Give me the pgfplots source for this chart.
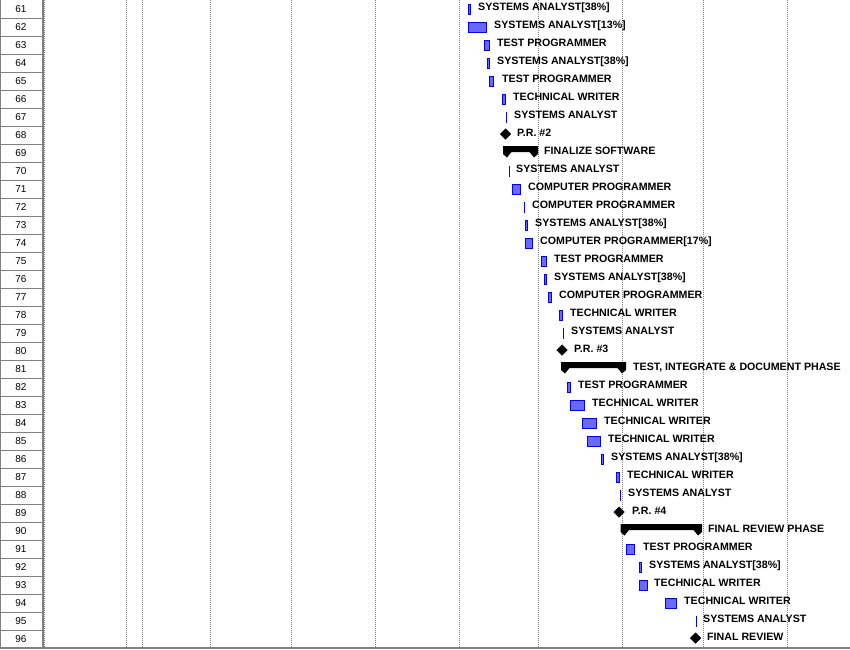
\documentclass[border=0pt]{standalone}
\usepackage{fontspec}
\setmainfont{Liberation Sans}
\usepackage{pgfplots}
\usepackage{pgfplotstable}
\pgfplotsset{compat=1.18}
\definecolor{barblue}{RGB}{0,0,255}
\definecolor{barfill}{RGB}{105,105,255}
\definecolor{gridgray}{RGB}{128,128,128}

% task bar: row, start, end
\newcommand\task[3]{%
 \pgfmathsetmacro\yt{9+18*(#1-61)-5}%
 \pgfmathsetmacro\yb{9+18*(#1-61)+5}%
 \pgfmathsetmacro\xa{#2+0.5}%
 \pgfmathsetmacro\xb{#3-0.5}%
 \addplot[draw=barblue, fill=barfill, line width=1pt] coordinates {(\xa,\yt)(\xb,\yt)(\xb,\yb)(\xa,\yb)} --cycle;
}
% zero-length task: row, x
\newcommand\tline[2]{%
 \pgfmathsetmacro\yt{9+18*(#1-61)-5.5}%
 \pgfmathsetmacro\yb{9+18*(#1-61)+5.5}%
 \addplot[draw=barblue, line width=1pt] coordinates {(#2,\yt)(#2,\yb)};
}
% summary bar: row, start, end
\newcommand\summ[3]{%
 \pgfmathsetmacro\yt{9+18*(#1-61)-7}%
 \pgfmathsetmacro\yb{9+18*(#1-61)-1}%
 \pgfmathsetmacro\yc{9+18*(#1-61)+1}%
 \pgfmathsetmacro\yp{9+18*(#1-61)+4.5}%
 \pgfmathsetmacro\xa{#2+4}\pgfmathsetmacro\xb{#2+8.5}%
 \pgfmathsetmacro\xc{#3-4}\pgfmathsetmacro\xd{#3-8.5}%
 \addplot[fill=black, draw=none] coordinates {(#2,\yt)(#3,\yt)(#3,\yc)(\xc,\yp)(\xd,\yb)(\xb,\yb)(\xa,\yp)(#2,\yc)} --cycle;
}

\pgfplotstableread[col sep=semicolon]{
row;x;label
61;478;SYSTEMS ANALYST[38\%]
62;494;SYSTEMS ANALYST[13\%]
63;497;TEST PROGRAMMER
64;497;SYSTEMS ANALYST[38\%]
65;502;TEST PROGRAMMER
66;513;TECHNICAL WRITER
67;514;SYSTEMS ANALYST
68;517;P.R. \#2
69;544;FINALIZE SOFTWARE
70;516;SYSTEMS ANALYST
71;528;COMPUTER PROGRAMMER
72;532;COMPUTER PROGRAMMER
73;535;SYSTEMS ANALYST[38\%]
74;540;COMPUTER PROGRAMMER[17\%]
75;554;TEST PROGRAMMER
76;554;SYSTEMS ANALYST[38\%]
77;559;COMPUTER PROGRAMMER
78;570;TECHNICAL WRITER
79;571;SYSTEMS ANALYST
80;574;P.R. \#3
81;633;TEST, INTEGRATE \& DOCUMENT PHASE
82;578;TEST PROGRAMMER
83;592;TECHNICAL WRITER
84;604;TECHNICAL WRITER
85;608;TECHNICAL WRITER
86;611;SYSTEMS ANALYST[38\%]
87;627;TECHNICAL WRITER
88;628;SYSTEMS ANALYST
89;632;P.R. \#4
90;708;FINAL REVIEW PHASE
91;643;TEST PROGRAMMER
92;649;SYSTEMS ANALYST[38\%]
93;654;TECHNICAL WRITER
94;684;TECHNICAL WRITER
95;703;SYSTEMS ANALYST
96;707;FINAL REVIEW
}\labels

\begin{document}
\begin{tikzpicture}
\begin{axis}[
  scale only axis, width=850pt, height=649pt,
  xmin=0, xmax=850, ymin=0, ymax=649, y dir=reverse,
  hide axis, clip=false,
]
% dotted timescale gridlines
\addplot[ycomb, draw=gridgray, line width=1pt, dash pattern=on 1pt off 1pt]
  coordinates {(44.5,647)(126.5,647)(142.5,647)(210.5,647)(291.5,647)(375.5,647)(459,647)(538,647)(622,647)(703,647)(787,647)};
% row-number column borders
\addplot[xcomb, draw=gridgray, line width=1pt]
  coordinates {(43,18)(43,36)(43,54)(43,72)(43,90)(43,108)(43,126)(43,144)(43,162)(43,180)(43,198)(43,216)(43,234)(43,252)(43,270)(43,288)(43,306)(43,324)(43,342)(43,360)(43,378)(43,396)(43,414)(43,432)(43,450)(43,468)(43,486)(43,504)(43,522)(43,540)(43,558)(43,576)(43,594)(43,612)(43,630)};
\addplot[draw=gridgray, line width=1pt] coordinates {(0.5,0)(0.5,648)};
\addplot[draw=gridgray, line width=1.4pt] coordinates {(43,0)(43,648)};
\addplot[draw=gridgray, line width=1.6pt] coordinates {(0,647.7)(850,647.7)};

% task bars
\task{61}{468}{471}
\task{62}{468}{487}
\task{63}{484}{490}
\task{64}{487}{490}
\task{65}{489}{494}
\task{66}{502}{506}
\tline{67}{506}
\summ{69}{503}{538}
\tline{70}{509}
\task{71}{512}{520.5}
\tline{72}{524}
\task{73}{525}{528}
\task{74}{525}{533}
\task{75}{541}{546.5}
\task{76}{544}{547}
\task{77}{548}{551.5}
\task{78}{559}{563}
\tline{79}{563}
\summ{81}{561}{626}
\task{82}{567}{571}
\task{83}{570}{585}
\task{84}{582}{597}
\task{85}{587}{601}
\task{86}{601}{604}
\task{87}{616}{620}
\tline{88}{620.5}
\summ{90}{620.5}{702}
\task{91}{626}{635}
\task{92}{639}{642}
\task{93}{639}{647.5}
\task{94}{665}{677}
\tline{95}{696}

% milestones
\addplot[only marks, mark=square*, mark size=3.7pt, mark options={rotate=45, fill=black, draw=black}]
  coordinates {(505.5,134)(562,350)(619,512)(695.5,638)};

% task labels
\addplot[only marks, mark=none, point meta=explicit symbolic,
  nodes near coords,
  nodes near coords style={anchor=base west, inner sep=0pt, font=\fontsize{10.65}{12}\selectfont\bfseries}]
  table[x=x, y expr={9+18*(\thisrow{row}-61)+1}, meta=label] {\labels};

% row numbers
\addplot[only marks, mark=none, point meta=explicit symbolic,
  nodes near coords,
  nodes near coords style={anchor=base, inner sep=0pt, font=\fontsize{10}{11}\selectfont}]
  table[x expr=21, y expr={9+18*(\thisrow{row}-61)+3}, meta=row] {\labels};
\end{axis}
\pgfresetboundingbox
\path (0,0) rectangle (850pt,649pt);
\end{tikzpicture}
\end{document}
